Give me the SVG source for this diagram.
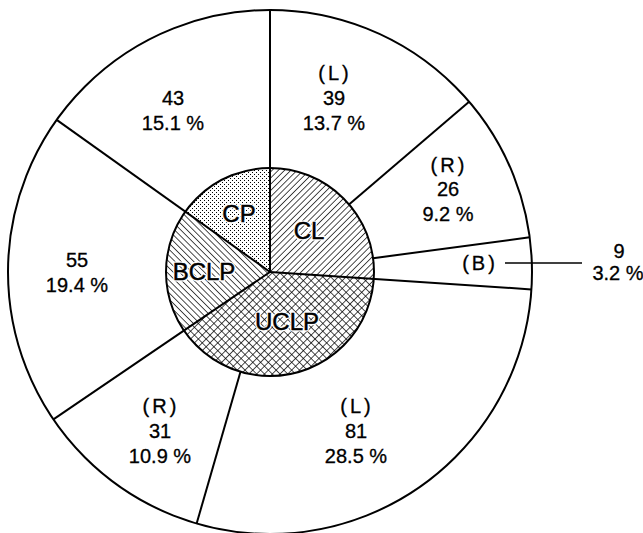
<svg xmlns="http://www.w3.org/2000/svg" width="643" height="533" viewBox="0 0 643 533">
<defs>
<pattern id="hatchR" width="4.4" height="4.4" patternUnits="userSpaceOnUse" patternTransform="rotate(45)">
<line x1="0" y1="0" x2="0" y2="4.4" stroke="#000" stroke-width="1.4"/>
</pattern>
<pattern id="hatchL" width="4.4" height="4.4" patternUnits="userSpaceOnUse" patternTransform="rotate(-45)">
<line x1="0" y1="0" x2="0" y2="4.4" stroke="#000" stroke-width="1.4"/>
</pattern>
<pattern id="cross" width="5.5" height="5.5" patternUnits="userSpaceOnUse" patternTransform="rotate(45)">
<line x1="0" y1="0" x2="0" y2="5.5" stroke="#000" stroke-width="1.4"/>
<line x1="0" y1="0" x2="5.5" y2="0" stroke="#000" stroke-width="1.4"/>
</pattern>
<pattern id="dots" width="4" height="4" patternUnits="userSpaceOnUse">
<rect x="0" y="0" width="1" height="1" fill="#000"/>
<rect x="2" y="2" width="1" height="1" fill="#000"/>
</pattern>
<style>
.ln{stroke:#000;stroke-width:2;fill:none}
.t{font-family:"Liberation Sans",Arial,sans-serif;font-size:20px;fill:#000;stroke:#000;stroke-width:0.3;text-anchor:middle}
.p{letter-spacing:3px}
.c{font-family:"Liberation Sans",Arial,sans-serif;font-size:24px;text-anchor:middle}
.halo{fill:#fff;stroke:#fff;stroke-width:3;stroke-linejoin:round}
.cf{fill:#000;stroke:#000;stroke-width:0.5}
</style>
</defs>
<rect width="643" height="533" fill="#fff"/>
<circle cx="270" cy="272" r="262" class="ln"/>
<g id="inner">
<g id="CL"><path d="M270,272 L270,168 A104,104 0 0 1 373.8,278.9 Z" fill="url(#hatchR)"/></g>
<g id="UCLP"><path d="M270,272 L373.8,278.9 A104,104 0 0 1 184,330.5 Z" fill="url(#cross)"/></g>
<g id="BCLP"><path d="M270,272 L184,330.5 A104,104 0 0 1 185.3,211.6 Z" fill="url(#hatchL)"/></g>
<g id="CP"><path d="M270,272 L185.3,211.6 A104,104 0 0 1 270,168 Z" fill="url(#dots)"/></g>
<circle cx="270" cy="272" r="104" class="ln"/>
</g>
<g id="connectors">
<line class="ln" x1="270" y1="10" x2="270" y2="272"/>
<line class="ln" x1="270" y1="272" x2="531.4" y2="289.4"/>
<line class="ln" x1="270" y1="272" x2="53.4" y2="419.4"/>
<line class="ln" x1="270" y1="272" x2="56.7" y2="119.9"/>
<line class="ln" x1="349" y1="204.4" x2="469.1" y2="101.7"/>
<line class="ln" x1="373.1" y1="258.2" x2="529.7" y2="237.3"/>
<line class="ln" x1="240.5" y1="371.7" x2="196.5" y2="524"/>
<line x1="505" y1="263" x2="582" y2="263" stroke="#000" stroke-width="1.5"/>
</g>
<g id="inner-labels">
<text class="c halo" x="309" y="239">CL</text><text class="c cf" x="309" y="239">CL</text>
<text class="c halo" x="287" y="330">UCLP</text><text class="c cf" x="287" y="330">UCLP</text>
<text class="c halo" x="204" y="280">BCLP</text><text class="c cf" x="204" y="280">BCLP</text>
<text class="c halo" x="239" y="222">CP</text><text class="c cf" x="239" y="222">CP</text>
</g>
<g id="CP-43"><text class="t" x="173" y="105">43</text><text class="t" x="173" y="130">15.1 %</text></g>
<g id="CL-L"><text class="t p" x="335" y="80">(L)</text><text class="t" x="334" y="105">39</text><text class="t" x="334" y="130">13.7 %</text></g>
<g id="CL-R"><text class="t p" x="449" y="172">(R)</text><text class="t" x="448" y="196">26</text><text class="t" x="448" y="221">9.2 %</text></g>
<g id="CL-B"><text class="t p" x="480" y="270">(B)</text><text class="t" x="619" y="258">9</text><text class="t" x="618" y="280">3.2 %</text></g>
<g id="BCLP-55"><text class="t" x="77" y="267">55</text><text class="t" x="77" y="292">19.4 %</text></g>
<g id="UCLP-R"><text class="t p" x="161" y="413">(R)</text><text class="t" x="160" y="438">31</text><text class="t" x="160" y="463">10.9 %</text></g>
<g id="UCLP-L"><text class="t p" x="357" y="413">(L)</text><text class="t" x="356" y="438">81</text><text class="t" x="356" y="463">28.5 %</text></g>
</svg>
